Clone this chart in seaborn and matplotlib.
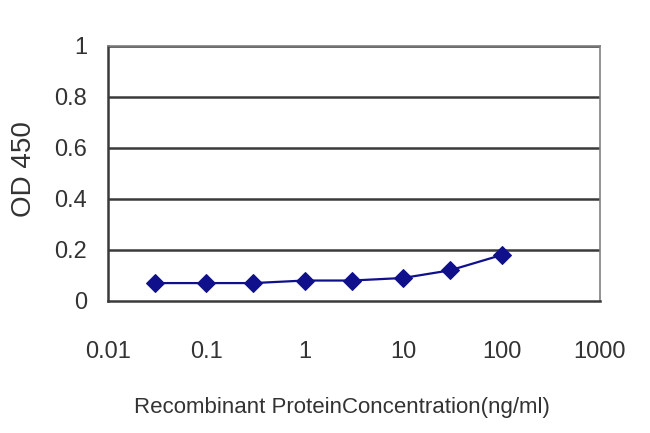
import numpy as np
import pandas as pd
import seaborn as sns
import matplotlib
matplotlib.use("Agg")
import matplotlib.pyplot as plt
from matplotlib.ticker import FixedLocator, FixedFormatter, NullLocator

# Values
concentration = [0.03, 0.1, 0.3, 1, 3, 10, 30, 100]
od450 = [0.07, 0.07, 0.07, 0.08, 0.08, 0.09, 0.12, 0.18]
x_ticks = [0.01, 0.1, 1, 10, 100, 1000]
x_tick_labels = ["0.01", "0.1", "1", "10", "100", "1000"]
y_ticks = [0, 0.2, 0.4, 0.6, 0.8, 1]
y_tick_labels = ["0", "0.2", "0.4", "0.6", "0.8", "1"]

df = pd.DataFrame({"Concentration": concentration, "OD 450": od450})

sns.set_style("white")
plt.rcParams["font.family"] = ["Liberation Sans", "DejaVu Sans"]

fig = plt.figure(figsize=(6.5, 4.33), dpi=100)
ax = fig.add_axes([0.166, 0.305, 0.757, 0.589])

# Horizontal gridlines
for yv in y_ticks[1:]:
    ax.axhline(yv, color="#3a3a3a", linewidth=1.8, zorder=1)

sns.lineplot(
    data=df,
    x="Concentration",
    y="OD 450",
    ax=ax,
    color="#10108c",
    marker="D",
    markersize=9,
    markeredgecolor="#10108c",
    linewidth=1.6,
    zorder=3,
)

ax.set_xscale("log")
ax.set_xlim(0.01, 1000)
ax.set_ylim(0, 1)
ax.xaxis.set_major_locator(FixedLocator(x_ticks))
ax.xaxis.set_major_formatter(FixedFormatter(x_tick_labels))
ax.xaxis.set_minor_locator(NullLocator())
ax.yaxis.set_major_locator(FixedLocator(y_ticks))
ax.yaxis.set_major_formatter(FixedFormatter(y_tick_labels))

ax.tick_params(axis="x", direction="in", length=5, width=1.2, colors="#3a3a3a",
               labelsize=17, labelcolor="#333333", pad=29)
ax.tick_params(axis="y", direction="in", length=0, labelsize=17,
               labelcolor="#333333", pad=15)

for side in ["left", "bottom"]:
    ax.spines[side].set_color("#3a3a3a")
    ax.spines[side].set_linewidth(1.8)
for side in ["top", "right"]:
    ax.spines[side].set_color("#808080")
    ax.spines[side].set_linewidth(1.2)

ax.set_xlabel("Recombinant ProteinConcentration(ng/ml)", fontsize=16,
              color="#333333")
ax.xaxis.set_label_coords(0.476, -0.375)
ax.set_ylabel("OD 450", fontsize=20, color="#333333")
ax.yaxis.set_label_coords(-0.145, 0.516)

fig.savefig("out.png", dpi=100)
